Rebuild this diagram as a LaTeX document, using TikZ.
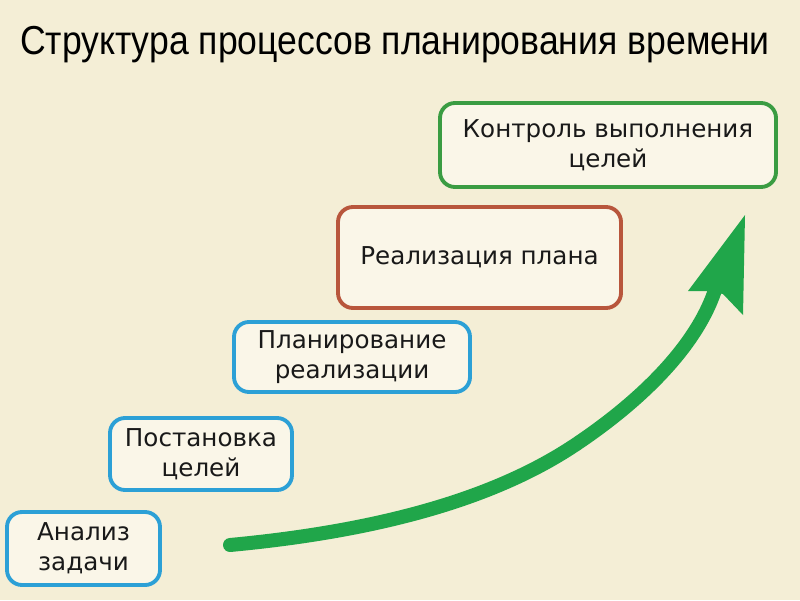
\documentclass[tikz,border=0pt]{standalone}
\usepackage{fontspec}
\usepackage{graphicx}
\setmainfont{DejaVu Sans}
\newfontfamily\titlefont{Liberation Sans}

\definecolor{bgcream}{RGB}{244,238,214}
\definecolor{boxfill}{RGB}{250,246,232}
\definecolor{stepblue}{RGB}{44,160,214}
\definecolor{stepred}{RGB}{184,86,60}
\definecolor{stepgreen}{RGB}{58,156,66}
\definecolor{arrowgreen}{RGB}{32,166,74}

\begin{document}
\begin{tikzpicture}
[
	stagebox/.style={draw,line width=2.2pt,rounded corners=0.3cm,fill=boxfill,
		align=center,font=\fontsize{14}{17}\selectfont,text=black!90,inner sep=0pt},
	shaft/.style={draw=arrowgreen,line width=0.28cm,line cap=round},
	x=1cm,y=1cm
]

	% background
	\fill[bgcream] (0,0) rectangle (16,12);
	\useasboundingbox (0,0) rectangle (16,12);

	% title
	\node (title) at (7.9,11.1) {\scalebox{0.88}[1]{\titlefont\fontsize{23}{26}\selectfont Структура процессов планирования времени}};

	% stages
	\node[stagebox,draw=stepblue,minimum width=3.06cm,minimum height=1.46cm] (analiz) at (1.67,1.03) {Анализ\\задачи};
	\node[stagebox,draw=stepblue,minimum width=3.64cm,minimum height=1.44cm] (postanovka) at (4.02,2.92) {Постановка\\целей};
	\node[stagebox,draw=stepblue,minimum width=4.72cm,minimum height=1.40cm] (planirovanie) at (7.04,4.86) {Планирование\\реализации};
	\node[stagebox,draw=stepred,minimum width=5.66cm,minimum height=2.02cm] (realizaciya) at (9.59,6.85) {Реализация плана};
	\node[stagebox,draw=stepgreen,minimum width=6.72cm,minimum height=1.68cm] (kontrol) at (12.16,9.10) {Контроль выполнения\\целей};

	% arrow
	\coordinate (start) at (4.6,1.1);
	\coordinate (bend) at (11.5,3.1);
	\coordinate (base) at (14.3,6.2);
	\coordinate (tip) at (14.9,7.7);
	\draw[shaft] (start) .. controls (7.8,1.4) and (10.0,2.1) .. (bend)
		.. controls (12.7,3.9) and (13.9,5.0) .. (base);
	\fill[arrowgreen] (tip) -- (14.86,5.7) -- (14.46,6.12) -- (14.14,6.18) -- (13.76,6.18) -- cycle;

\end{tikzpicture}
\end{document}
